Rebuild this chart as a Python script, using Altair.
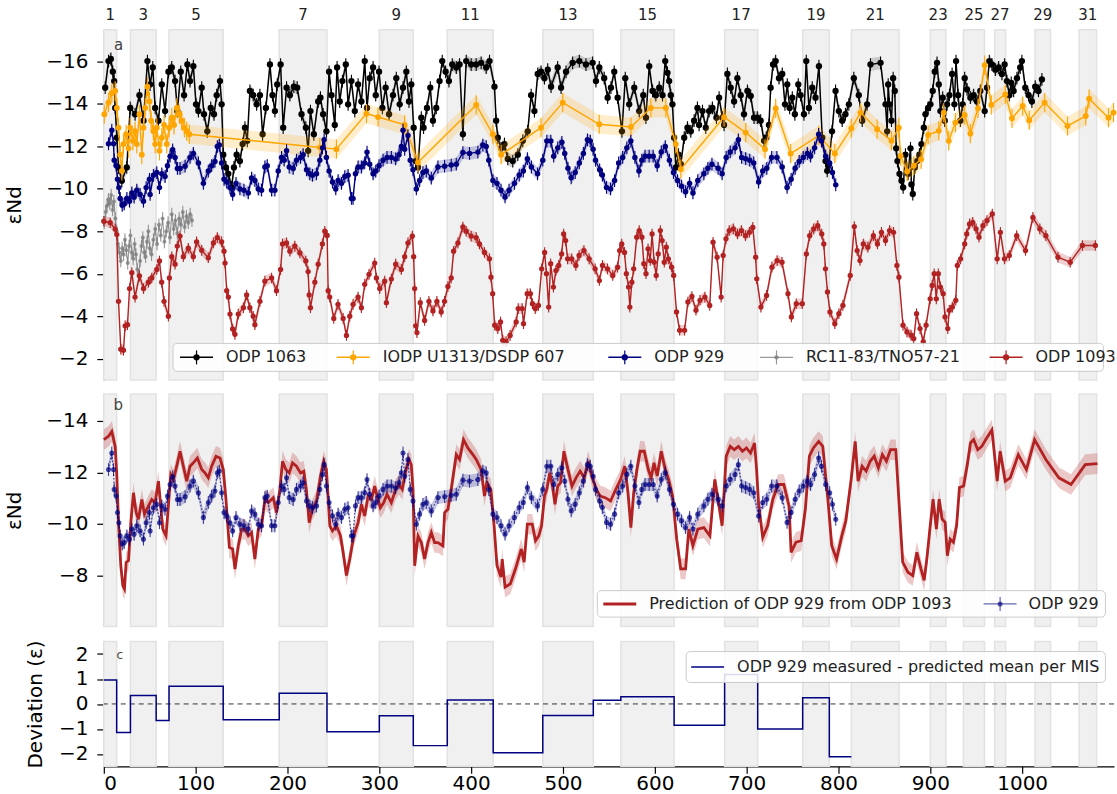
import altair as alt
import pandas as pd

# ---------------------------------------------------------------------------
# Marine isotope stages (interglacials) shown as grey bands, ages in ka
MIS_LABELS = [1, 3, 5, 7, 9, 11, 13, 15, 17, 19, 21, 23, 25, 27, 29, 31]
MIS_START = [0, 29, 71, 191, 300, 374, 478, 563, 676, 761, 814, 900, 936, 970, 1014, 1062]
MIS_END = [14, 57, 130, 243, 337, 424, 533, 621, 712, 790, 866, 917, 959, 982, 1031, 1081]

# ODP 1063 (age ka, eNd)
ODP1063 = [
    (1.5, -14.75), (5.1, -16.0), (7.7, -16.1), (9.8, -15.5), (11.3, -15.06), (12.4, -13.8), (14.2, -12.4),
    (16, -11.0), (19.6, -10.37), (25, -11.0), (28.7, -13.8), (34.1, -13.5), (38.8, -14.4), (43.2, -13.2),
    (47.5, -16.0), (50.4, -14.9), (53.3, -15.7), (55.9, -13.8), (59.5, -13.2), (63.1, -14.9), (66.7, -13.65),
    (70.4, -15.5), (74, -15.7), (77.6, -15.06), (80.1, -13.65), (83.8, -15.5), (87.4, -14.4), (91, -15.84),
    (93.9, -15.06), (97.5, -15.76), (100.4, -13.97), (103, -13.65), (106.6, -14.75), (109.1, -13.5),
    (112.7, -12.7), (116.4, -13.8), (120, -13.5), (122.9, -14.4), (126.5, -15.06), (128.3, -13.97),
    (130.1, -11.6), (133, -11.0), (135.6, -10.7), (139.2, -10.06), (141.7, -11.0), (144.6, -11.6),
    (148.2, -11.3), (151.1, -12.1), (153.7, -12.87), (156.2, -12.25), (159.1, -14.6), (162.7, -14.4),
    (166.4, -13.97), (170, -14.4), (172.9, -12.56), (176.5, -13.8), (180.9, -15.84), (183.7, -14.4),
    (186.3, -13.65), (188.8, -14.9), (192.5, -15.84), (195.3, -12.87), (199, -14.75), (202.6, -14.4),
    (206.9, -14.8), (210.6, -14.75), (215.3, -13.5), (220, -12.87), (222.5, -11.78), (225, -13.65),
    (228.7, -12.56), (233.4, -14.1), (235.9, -14.28), (238.8, -13.5), (242.4, -12.7), (245.3, -15.5),
    (247.9, -14.4), (251.5, -13.0), (254, -15.7), (256.9, -14.1), (259.8, -15.06), (263.5, -15.84),
    (266, -13.97), (269.6, -15.06), (273.3, -13.65), (276.9, -14.9), (280.5, -14.1), (284.1, -16.0),
    (286.6, -13.8), (289.5, -15.2), (293.2, -15.7), (296.1, -14.4), (299.7, -15.5), (303.3, -13.8),
    (306.9, -14.75), (310.6, -13.5), (314.9, -14.4), (318.5, -15.2), (322.2, -13.97), (325.8, -14.75),
    (329.4, -15.5), (332.3, -14.1), (334.8, -14.9), (337.4, -12.87), (339.6, -11.3), (342.1, -11.0),
    (345.7, -13.34), (348.2, -12.87), (351.9, -13.8), (355.5, -14.75), (358.4, -13.2), (362, -13.8),
    (365.6, -15.06), (368.5, -16.0), (372.2, -15.5), (375.8, -15.06), (379.4, -15.84), (383.8, -15.7),
    (387.4, -15.84), (391, -12.56), (394.6, -16.0), (400, -15.84), (405.5, -15.84), (410.9, -15.92),
    (416.4, -15.7), (420, -16.0), (425.4, -14.8), (427.2, -13.2), (429, -12.4), (432.6, -11.9),
    (436.3, -12.1), (439.9, -11.4), (445.3, -11.3), (450.8, -11.6), (456.2, -12.25), (461.6, -12.7),
    (465.3, -14.4), (468.9, -13.65), (472.5, -15.4), (476.1, -15.5), (479.8, -15.2), (483.4, -15.6),
    (487, -14.8), (494.2, -15.7), (497.9, -14.75), (503.3, -15.5), (510.5, -15.92), (517.8, -16.0),
    (525, -15.84), (532.3, -15.92), (535.9, -15.06), (539.5, -15.7), (544.9, -15.2), (548.6, -14.28),
    (552.2, -14.75), (555.8, -15.5), (559.5, -14.28), (564.2, -12.7), (567.8, -15.2), (572.1, -13.97),
    (577.6, -14.75), (583, -13.65), (587.4, -14.4), (590.3, -13.34), (593.9, -15.76), (597.5, -14.6),
    (601.1, -14.4), (604.8, -14.75), (608.4, -14.4), (611.3, -16.0), (613.8, -15.45), (615.6, -15.06),
    (617.4, -14.4), (619.2, -13.97), (621, -12.4), (622.9, -11.0), (625.8, -11.6), (628.3, -11.15),
    (632, -12.4), (635.5, -12.87), (639.2, -12.7), (642.8, -13.2), (646.4, -13.8), (648.2, -13.0),
    (651.9, -13.65), (655.5, -12.87), (659.1, -13.65), (662.7, -13.8), (667.1, -13.34), (670, -14.28),
    (673.6, -13.34), (675.4, -13.0), (679, -15.4), (682.6, -14.75), (686.3, -14.1), (689.9, -15.2),
    (693.5, -14.4), (697.1, -13.5), (700.8, -14.6), (704.4, -14.36), (708, -13.34), (711.6, -13.34),
    (715.3, -13.2), (718.9, -12.25), (721.4, -12.4), (724.3, -13.0), (726.1, -14.75), (728.7, -15.84),
    (731.6, -16.0), (735.2, -15.2), (738.8, -15.4), (741.7, -13.97), (744.2, -14.9), (746.8, -13.8),
    (749.7, -14.28), (752.5, -13.5), (756.2, -14.9), (758.7, -14.4), (762.4, -13.5), (764.9, -16.0),
    (767.8, -13.8), (771.4, -14.75), (775, -14.28), (778.7, -15.76), (782.3, -12.4), (785.9, -11.3),
    (787.7, -10.84), (789.5, -11.15), (793, -12.7), (796.8, -14.6), (800.4, -13.65), (804, -13.2),
    (807.6, -13.5), (811.3, -13.97), (816.7, -15.2), (822.1, -14.4), (825.8, -13.2), (831.2, -13.97),
    (834.8, -15.84), (845.8, -15.92), (851.2, -13.97), (853, -12.7), (854.1, -14.9), (855.5, -13.97),
    (857.7, -13.2), (859.5, -15.2), (861.3, -14.6), (862.8, -11.9), (864.2, -11.3), (866.4, -10.7),
    (868.6, -10.37), (870.4, -10.06), (872.9, -11.6), (875.8, -10.7), (878.4, -11.9), (879.4, -10.2),
    (880.9, -9.75), (883.1, -11.0), (885.6, -11.3), (888.1, -11.6), (890.3, -12.1), (892.9, -12.87),
    (894.7, -13.5), (897.6, -13.8), (900.1, -13.97), (902.6, -14.6), (904.8, -15.5), (907.3, -15.92),
    (909.2, -14.9), (911, -13.65), (913.5, -14.28), (915.7, -13.2), (918.2, -13.97), (920.8, -14.4),
    (923.7, -15.4), (926.2, -13.97), (928, -16.0), (930.2, -14.4), (932.7, -13.2), (935.2, -13.97),
    (937.4, -15.2), (940, -14.67), (943.6, -14.28), (947.2, -14.4), (950.8, -14.1), (954.4, -14.6),
    (959.2, -13.65), (961.7, -14.75), (964.2, -16.0), (967.1, -15.84), (970.8, -15.6), (974.4, -15.7),
    (978, -15.4), (980.9, -15.84), (983.4, -15.06), (986, -14.4), (988.1, -14.98), (990.7, -14.6),
    (994.3, -15.2), (997.9, -15.7), (999.7, -16.0), (1003.4, -14.75), (1007, -14.4), (1010.6, -14.1),
    (1014.2, -14.8), (1017.8, -14.6), (1021.5, -15.14),
]

# IODP U1313 / DSDP 607
U1313 = [
    (0.5, -13.5), (5.1, -14.05), (8.7, -14.5), (12.4, -14.6), (14.2, -13.8), (16, -12.87), (17.8, -11.6),
    (19.6, -10.84), (21.4, -12.1), (24.3, -12.56), (26.9, -11.9), (28.7, -12.87), (31.6, -12.25),
    (34.1, -12.7), (35.9, -12.1), (38.8, -13.5), (41.4, -11.6), (43.2, -12.87), (45, -13.8), (47.5, -14.8),
    (49.7, -14.1), (51.5, -13.2), (54, -12.7), (55.9, -12.1), (57.7, -12.87), (60.6, -11.78), (63.1, -12.4),
    (65.6, -13.0), (68.5, -12.1), (71.1, -12.87), (74, -13.34), (76.5, -13.0), (79.4, -13.8), (82.3, -13.5),
    (84.8, -13.2), (87.7, -12.87), (90.3, -12.7), (93.2, -12.56), (235.2, -11.94), (253.3, -11.86),
    (286, -13.53), (298.6, -13.37), (327.6, -13.0), (342, -11.23), (405.5, -13.94), (423.6, -12.56),
    (432.7, -11.6), (476.1, -12.87), (499.7, -14.05), (539.5, -13.03), (574, -12.9), (595.7, -13.8),
    (612, -13.8), (622.9, -12.1), (628.3, -10.92), (675.4, -13.37), (699, -12.64), (720, -11.86),
    (731.6, -13.78), (747.9, -11.65), (778.7, -12.51), (796, -11.65), (814, -12.84), (824, -13.58),
    (842.1, -12.8), (857.7, -12.25), (865.7, -12.87), (867.5, -11.54), (874.7, -10.81), (882, -11.08),
    (890, -11.39), (897.6, -12.53), (909.2, -12.72), (914.6, -13.58), (920, -12.25), (927.3, -13.11),
    (937.4, -13.47), (943.6, -12.59), (951.9, -13.78), (959.2, -15.81), (966.4, -13.94), (981.6, -14.44),
    (988.9, -13.31), (1000.5, -13.89), (1007.7, -13.22), (1024.4, -14.05), (1049.4, -12.95),
    (1069.3, -13.42), (1072.9, -14.23), (1094, -13.34), (1099.5, -13.58),
]

# ODP 929 (measured)
ODP929 = [
    (5.1, -12.11), (8.7, -12.75), (10.6, -12.11), (11.3, -11.34), (13.5, -11.08), (14.9, -10.44),
    (16.4, -10.05), (17.8, -9.54), (20, -9.22), (22.2, -9.28), (25.1, -9.54), (28, -9.41), (30.5, -9.8),
    (33, -9.6), (35.9, -9.93), (39.5, -9.73), (43.2, -9.41), (46.1, -10.05), (49.7, -10.44), (50.4, -9.73),
    (54, -10.63), (57.7, -10.76), (60.6, -10.05), (63.1, -10.7), (66.7, -10.57), (69.3, -11.08),
    (72.2, -11.53), (75, -11.83), (77.6, -11.47), (80.1, -10.95), (83, -10.95), (88.5, -11.06),
    (93.9, -11.47), (97.5, -11.66), (103, -11.21), (108.4, -10.25), (113.8, -10.83), (117.4, -11.08),
    (121, -11.28), (123.6, -11.98), (125.8, -12.05), (128.3, -11.21), (130.9, -10.44), (133.8, -10.31),
    (137.4, -10.05), (140.3, -9.73), (143.9, -10.25), (148.2, -9.99), (152.6, -9.93), (157.3, -9.8),
    (160.9, -10.5), (164.5, -10.38), (168.2, -9.99), (171.8, -9.93), (175.4, -11.02), (178, -11.08),
    (182.7, -9.93), (186.3, -9.93), (189.9, -10.83), (193.5, -11.47), (196.4, -11.34), (199, -11.79),
    (201.9, -11.02), (206.2, -10.95), (209.8, -11.34), (214.2, -11.47), (217.1, -11.6), (220.7, -10.89),
    (224.3, -10.7), (227.2, -10.63), (231.6, -10.7), (235.2, -11.34), (238.1, -11.92), (239.9, -12.3),
    (242.4, -11.47), (245.3, -10.83), (249, -10.31), (252.6, -9.99), (255.1, -10.38), (258.8, -10.25),
    (262.4, -10.57), (266, -10.63), (269.6, -9.54), (271.4, -9.54), (274, -10.7), (276.9, -11.02),
    (280.5, -11.02), (284.1, -11.21), (286.6, -11.72), (289.5, -11.15), (293.2, -10.7), (296.1, -10.83),
    (299.7, -11.08), (304.1, -11.34), (308.4, -11.47), (313.1, -11.47), (317.8, -11.4), (321.4, -11.6),
    (324, -11.98), (325.8, -12.75), (327.6, -11.85), (331.2, -12.5), (333.7, -11.34), (336.7, -10.89),
    (340.3, -9.99), (343.9, -10.38), (347.5, -10.76), (351.1, -10.83), (356.6, -10.5), (363.8, -11.02),
    (371.1, -11.06), (378.3, -11.11), (383.8, -11.15), (391, -11.7), (398.2, -11.66), (407.3, -11.72),
    (412.7, -12.05), (416.4, -11.98), (419.2, -11.34), (423.7, -10.38), (428.1, -10.25), (432.5, -9.93),
    (436.9, -9.61), (441.3, -9.93), (447.1, -10.25), (452.4, -10.64), (456.8, -10.83), (461.2, -11.41),
    (465.6, -11.02), (472.3, -10.7), (478, -11.34), (482.4, -12.24), (486.8, -12.24), (489.9, -11.53),
    (494.3, -11.92), (498.8, -12.18), (501.9, -11.66), (505.4, -10.96), (508.9, -10.51), (513.3, -10.76),
    (517.8, -11.21), (522.2, -11.66), (526.6, -12.3), (529.7, -12.24), (532.8, -11.85), (535.4, -11.34),
    (539.9, -10.89), (542.9, -10.64), (547.4, -10.06), (551.8, -9.99), (556.2, -10.38), (560.6, -11.21),
    (565, -11.47), (569.5, -11.92), (573.9, -12.24), (578.3, -11.47), (582.7, -10.83), (585.8, -11.34),
    (589.3, -11.53), (593.8, -11.53), (598.2, -11.53), (602.6, -11.08), (607, -11.73), (611.4, -11.98),
    (615.9, -11.34), (620.3, -10.76), (624.7, -10.38), (629.1, -10.12), (633.5, -9.86), (637.9, -10.25),
    (641.5, -9.8), (646.8, -10.38), (653.4, -10.7), (657.8, -10.96), (662.2, -11.15), (668.9, -10.96),
    (673.3, -10.7), (677.7, -11.47), (682.1, -11.73), (687.4, -11.92), (691, -12.3), (694.5, -11.47),
    (698.9, -11.41), (703.3, -11.34), (707.7, -11.21), (713, -10.31), (717.5, -10.83), (721.9, -10.96),
    (727.2, -11.47), (732.9, -11.47), (738.7, -11.02), (744, -10.06), (748.4, -10.44), (752.8, -10.96),
    (757.2, -11.28), (761.6, -11.47), (766.1, -11.66), (769.6, -11.53), (774, -11.92), (778.4, -12.56),
    (781.5, -12.24), (786, -11.53), (790.4, -11.21), (793.4, -10.76), (797, -10.18),
]

# RC11-83 / TNO57-21
RC1183 = [
    (0.5, -8.4), (2, -8.9), (3.5, -9.2), (5, -9.5), (6.5, -9.3), (8, -9.7), (9.5, -9.0), (11, -9.4),
    (12.5, -8.6), (14, -8.0), (15.5, -7.4), (17, -7.0), (18.5, -6.6), (20, -7.2), (21.5, -6.9), (23, -7.6),
    (24.5, -7.1), (26, -6.5), (27.5, -7.3), (29, -7.8), (30.5, -7.0), (32, -6.7), (33.5, -7.4), (35, -6.9),
    (36.5, -6.2), (38, -5.9), (39.5, -6.6), (41, -7.3), (42.5, -7.7), (44, -7.0), (45.5, -6.8), (47, -7.5),
    (48.5, -8.0), (50, -7.2), (52, -6.9), (54, -7.6), (56, -8.1), (58, -7.4), (60, -8.3), (62, -7.8),
    (64, -8.6), (66, -7.5), (68, -8.0), (70, -8.4), (72, -7.7), (74, -8.8), (76, -8.1), (78, -8.5),
    (80, -7.9), (82, -8.6), (84, -8.3), (86, -8.9), (88, -8.2), (90, -8.7), (92, -8.4), (94, -8.8), (96, -8.5),
]

# ODP 1093
ODP1093 = [
    (0, -8.47), (7, -8.4), (12.4, -8.1), (14.2, -7.84), (16, -4.7), (18.5, -2.45), (21.4, -2.4),
    (23.2, -3.55), (25.8, -3.6), (28, -5.3), (30.5, -6.05), (34, -4.9), (38.8, -5.9), (43.2, -5.3),
    (48.6, -5.6), (52.2, -5.8), (57.7, -6.2), (60.6, -6.6), (63, -5.6), (65.6, -4.7), (70.3, -4.0),
    (71.4, -5.8), (74, -6.8), (77.6, -6.45), (80, -7.3), (83, -7.77), (86.6, -6.8), (92, -7.2),
    (97.5, -6.8), (101, -7.5), (106.6, -7.1), (113.8, -6.75), (119.3, -7.45), (123.6, -7.7),
    (128.3, -7.5), (130.9, -7.06), (132, -6.5), (133.8, -5.2), (135.6, -4.9), (137.4, -4.1),
    (140.3, -3.4), (142.8, -3.15), (146.4, -4.1), (152, -4.4), (155.5, -5.0), (159, -4.4), (162.7, -4.0),
    (164.5, -3.6), (170, -4.7), (175.4, -5.65), (182.7, -5.8), (188, -5.2), (192.5, -6.2), (194.6, -7.4),
    (199, -7.45), (202.6, -7.06), (208, -7.3), (213.5, -6.98), (220, -6.6), (222.5, -6.1), (223.6, -5.0),
    (225, -4.4), (229.8, -5.6), (233.4, -6.45), (238, -7.4), (240.6, -8.0), (243.2, -7.8), (244.3, -5.2),
    (246, -4.9), (250.4, -3.9), (255, -4.56), (260.6, -3.9), (264.2, -3.1), (267.8, -4.0), (271.4, -4.56),
    (276.9, -4.9), (280.5, -4.4), (284.1, -5.5), (288.8, -5.97), (295, -6.5), (296.8, -5.8),
    (300.4, -5.3), (305.9, -5.65), (307.7, -4.64), (313.1, -5.75), (317.8, -6.45), (324, -6.2),
    (327.6, -6.8), (331.2, -7.45), (336, -7.77), (337.4, -6.8), (338.5, -5.3), (339.6, -3.55),
    (341, -3.23), (344.6, -4.64), (349.3, -3.8), (354, -4.7), (358.4, -4.25), (362.7, -4.7),
    (367.4, -4.2), (371, -4.7), (374.7, -5.4), (378.3, -5.8), (380.9, -7.06), (385.6, -7.45),
    (391, -8.2), (394.6, -8.0), (400, -7.77), (405.5, -7.7), (409, -7.4), (414.5, -7.0), (420, -6.7),
    (421.6, -5.84), (423.4, -5.06), (425.6, -3.58), (429, -3.42), (432, -3.73), (434.4, -2.87),
    (438, -2.8), (442.4, -3.1), (449, -3.73), (451.2, -4.36), (455.6, -4.36), (457, -3.65), (461, -5.06),
    (464.5, -5.06), (466.7, -4.59), (469.8, -4.36), (473.3, -4.51), (476.8, -6.23), (480, -7.0),
    (482, -6.0), (484.4, -4.43), (486.6, -6.47), (489.6, -5.37), (492.3, -6.15), (495.4, -6.39),
    (498.5, -6.93), (500.7, -7.87), (502.9, -7.56), (505, -6.7), (509.5, -6.7), (514, -6.39),
    (517.5, -6.86), (522.8, -7.09), (528.5, -6.7), (535, -6.23), (539.6, -5.68), (543, -6.39),
    (548.4, -6.23), (554.2, -5.92), (559.5, -6.31), (561.7, -7.09), (564, -7.4), (567, -7.0), (569, -6.0),
    (571.4, -5.37), (572.8, -4.43), (575, -5.6), (577, -6.23), (580.3, -7.72), (583, -8.03), (586, -7.72),
    (588, -6.47), (590.4, -6.0), (592.6, -7.17), (595, -6.62), (597, -7.87), (599.3, -6.54),
    (601.5, -5.92), (603.7, -6.93), (606, -8.03), (608, -7.56), (610.3, -6.54), (612.5, -7.25),
    (614.7, -6.7), (618.3, -6.31), (620.5, -5.92), (623.6, -4.2), (627, -3.34), (632.4, -3.34),
    (636, -4.67), (640.4, -4.93), (644.8, -4.28), (649.2, -4.75), (654.5, -4.9), (659.8, -4.51),
    (663.4, -7.48), (667.8, -6.78), (672.2, -4.9), (674.4, -6.86), (677.5, -7.64), (681, -8.03),
    (685.5, -8.11), (690, -7.87), (694.3, -8.03), (698.7, -7.79), (703, -7.95), (706.7, -8.18),
    (709.8, -6.78), (711, -5.76), (715.5, -4.43), (721.7, -4.98), (727.5, -6.31), (733.2, -6.62),
    (738.5, -6.54), (745, -5.06), (748.7, -3.97), (754, -4.59), (760.6, -4.59), (765, -6.93),
    (768.6, -7.79), (773, -8.11), (777.4, -8.26), (781.8, -7.87), (784, -7.4), (785.8, -6.23),
    (788, -5.14), (790.7, -4.2), (796, -3.65), (800.4, -4.12), (804.8, -4.51), (812.8, -5.92),
    (817.2, -8.22), (820.3, -7.09), (823.4, -6.62), (827, -7.4), (832, -7.25), (838, -7.79),
    (842.4, -7.4), (846.8, -7.95), (851.2, -7.56), (855.6, -8.03), (860, -7.95), (863.6, -6.39),
    (865.8, -5.84), (870.2, -3.58), (874.6, -3.26), (879, -3.11), (882, -2.95), (885, -4.12),
    (888.8, -3.42), (892.3, -2.8), (895.4, -3.58), (899.8, -4.82), (902, -5.45), (904.2, -6.0),
    (906.5, -4.82), (908.7, -6.0), (911, -5.37), (914, -5.06), (916, -3.97), (919, -3.42), (920.6, -4.28),
    (924, -4.43), (927.7, -4.75), (929.4, -6.39), (933, -6.7), (937.4, -7.4), (939.6, -7.87),
    (942.7, -8.34), (946.2, -8.42), (949.8, -8.11), (953, -7.72), (957.3, -8.26), (961.7, -8.5),
    (967.5, -8.81), (972.8, -6.7), (976.3, -7.95), (980.7, -6.7), (986, -6.86), (994, -7.79),
    (1003.7, -7.09), (1011.7, -8.65), (1019.2, -8.11), (1025.8, -7.79), (1039, -6.78), (1052.3, -6.54),
    (1065.6, -7.33), (1079.7, -7.33),
]

# ODP 929 predicted from ODP 1093
PRED929 = [
    (0, -13.27), (5.1, -13.4), (8.7, -13.59), (12.4, -13.01), (14.2, -11.85), (16, -10.05), (18.5, -8.38),
    (20.7, -7.61), (22.5, -7.48), (24.3, -8.51), (26.9, -8.58), (29.4, -10.05), (32.3, -11.21),
    (35.2, -10.44), (37.7, -10.18), (41.4, -10.95), (44.3, -10.38), (48.6, -10.7), (52.2, -10.95),
    (55.9, -10.83), (59.5, -11.66), (61.3, -10.95), (64.2, -9.8), (67.8, -9.54), (70.3, -10.7),
    (72.9, -11.92), (75.8, -11.72), (79.4, -12.24), (83, -12.82), (86.6, -12.24), (90.3, -11.66),
    (93.9, -12.24), (97.5, -12.37), (101.9, -12.56), (106.6, -12.11), (110.2, -11.98), (113.8, -11.79),
    (117.4, -12.24), (122.2, -12.62), (126.5, -12.56), (130.1, -12.11), (133, -10.95), (136.7, -9.09),
    (140.3, -9.03), (142.8, -8.25), (146.4, -9.15), (150.1, -9.8), (153.7, -9.8), (157.3, -9.54),
    (160.9, -9.67), (164.5, -8.64), (168.2, -9.8), (171.8, -9.93), (175.4, -10.95), (179.1, -10.83),
    (184.5, -11.02), (188.1, -10.44), (191.7, -11.34), (194.6, -12.43), (198.2, -12.11), (201.9, -11.98),
    (205.5, -12.37), (209.8, -12.24), (214.2, -11.98), (217.8, -12.05), (220.7, -11.28), (223.6, -10.05),
    (227.2, -10.57), (231.6, -10.89), (235.9, -11.85), (239.5, -12.43), (242.4, -12.11), (246.1, -9.93),
    (249, -9.73), (253.3, -9.93), (257.7, -9.54), (260.6, -8.9), (264.2, -8.0), (267.8, -8.64),
    (272.2, -9.54), (276.9, -10.05), (280.5, -10.76), (284.1, -10.31), (287.7, -11.08), (291.4, -10.95),
    (295, -11.47), (297.5, -11.08), (301.1, -10.63), (304.8, -10.83), (308.4, -11.15), (313.1, -10.83),
    (317.8, -11.34), (321.4, -11.53), (325, -11.34), (328.7, -12.05), (332.3, -12.5), (334.8, -12.3),
    (336.7, -11.34), (338.5, -8.38), (342.1, -9.54), (345.7, -9.28), (349.3, -8.64), (353, -9.28),
    (356.6, -9.67), (360.2, -9.28), (363.8, -9.28), (369.3, -9.15), (371.1, -10.44), (374.7, -10.57),
    (378.3, -11.34), (383.8, -12.69), (387.4, -12.5), (391.7, -13.27), (396.4, -12.95), (401.9, -12.69),
    (405.5, -12.5), (410.9, -12.11), (414.5, -11.08), (417, -11.6), (421.5, -11.34), (425, -9.93),
    (428.1, -8.39), (432.5, -7.94), (433.8, -8.64), (436.9, -7.55), (442.7, -7.68), (448.8, -8.32),
    (454.6, -9.03), (457.7, -8.52), (461.2, -9.99), (466.5, -9.99), (470.1, -9.35), (473.6, -9.54),
    (476.7, -9.93), (479.8, -11.08), (482.4, -11.34), (485.5, -11.98), (488.6, -11.47), (491.3, -10.76),
    (494.3, -11.47), (497.4, -11.6), (501, -12.82), (505.4, -12.11), (509.8, -11.47), (514.2, -11.79),
    (518.7, -12.05), (523.1, -11.79), (527.5, -12.43), (531.9, -11.79), (536.3, -11.34), (540.7, -11.08),
    (546, -11.02), (551.8, -10.89), (557.5, -11.34), (562.8, -11.73), (567.3, -12.24), (570.8, -11.21),
    (573.9, -9.86), (577, -11.21), (580.5, -12.11), (584, -12.82), (588.5, -12.82), (592.9, -12.11),
    (596, -11.79), (599.1, -12.37), (602.6, -11.86), (607, -12.82), (611.4, -12.11), (615, -11.73),
    (619.4, -11.08), (623.8, -9.41), (628.2, -8.26), (633.5, -8.26), (637, -9.8), (641.5, -9.16),
    (646.8, -9.8), (653.4, -9.86), (660, -9.54), (665.3, -11.73), (673.3, -9.93), (677.7, -12.63),
    (682.1, -13.01), (686.5, -12.88), (691, -13.01), (695.4, -12.82), (699.8, -12.95), (704.2, -12.75),
    (708.6, -13.14), (710.8, -12.11), (713, -10.76), (717.5, -9.48), (722.8, -9.93), (728.5, -10.96),
    (734.3, -11.53), (740.4, -11.53), (746.2, -10.7), (748.4, -8.9), (753.7, -9.29), (759.4, -9.35),
    (763.9, -10.57), (768.3, -12.63), (772.7, -12.95), (778.4, -13.2), (782.9, -13.01), (786, -11.86),
    (789.1, -10.7), (792.6, -9.16), (797.9, -8.64), (803.6, -9.54), (808, -10.12), (813.8, -11.73),
    (818.2, -13.2), (821.3, -11.66), (825.7, -12.24), (830.1, -12.05), (834.5, -12.43), (838.9, -12.63),
    (843.4, -12.18), (847.8, -12.69), (852.2, -12.43), (856.6, -12.88), (862.4, -12.88), (865.5, -11.08),
    (869.9, -8.52), (875.6, -8.13), (880.9, -8.0), (885.3, -8.9), (889.8, -8.26), (893.3, -7.81),
    (896.4, -8.71), (899.5, -9.8), (903, -10.96), (906.6, -9.8), (909.6, -10.96), (912.8, -10.19),
    (916.2, -10.06), (918.5, -8.77), (921.6, -9.41), (925.1, -9.29), (928.6, -9.93), (931.7, -11.41),
    (936.2, -11.47), (940.6, -12.37), (943.7, -13.14), (947.2, -13.27), (951.6, -12.88), (956, -13.01),
    (961.4, -13.33), (967.1, -13.65), (972.8, -11.66), (976, -12.82), (981.6, -11.66), (987, -11.79),
    (995.8, -12.69), (1004.6, -12.11), (1013.5, -13.27), (1025.8, -12.5), (1040, -11.79),
    (1053.2, -11.53), (1068.7, -12.3), (1082, -12.34),
]

# Measured minus predicted ODP 929, mean per MIS (step starts, ka) and last step end
DEV_START = [0, 14, 29, 57, 71, 130, 191, 243, 300, 337, 374, 424, 478, 533, 563, 621, 676, 712, 761, 790]
DEV_VALUE = [0.96, -1.14, 0.34, -0.66, 0.71, -0.63, 0.43, -1.11, -0.47, -1.67, 0.16, -1.96,
             -0.46, 0.15, 0.29, -0.85, 1.18, -1.0, 0.25, -2.12]
DEV_LAST_END = 814

# 2-sigma uncertainties drawn as bands / error bars
ERR_1063, ERR_U1313, ERR_929, ERR_RC, ERR_1093, ERR_PRED = 0.3, 0.45, 0.3, 0.3, 0.25, 0.4

# ---------------------------------------------------------------------------
FONT = "DejaVu Sans"
C_BLACK, C_ORANGE, C_NAVY, C_GREY, C_RED = "#000000", "#ffa500", "#000080", "#808080", "#b22222"

W = 1012
H_A, H_B, H_C = 351, 233, 125
X_SCALE = alt.Scale(domain=[0, 1100], nice=False, zero=False)
Y_A = alt.Scale(domain=[-17.48, -1.0], reverse=True, nice=False, zero=False)
Y_B = alt.Scale(domain=[-15.04, -6.02], reverse=True, nice=False, zero=False)
Y_C = alt.Scale(domain=[-2.5, 2.5], nice=False, zero=False)
MINUS = "replace(datum.label, '-', '\u2212')"

dummy = pd.DataFrame({"k": [0]})
mis = pd.DataFrame({"label": [str(v) for v in MIS_LABELS], "start": MIS_START, "end": MIS_END})
mis["mid"] = (mis["start"] + mis["end"]) / 2


def yaxis(values, title, tx):
    return alt.Axis(values=values, title=title, titleX=tx, titleBaseline="middle",
                    labelExpr=MINUS, labelPadding=9)


AX_A = yaxis(list(range(-16, -1, 2)), "\u03b5Nd", -89.6)
AX_B = yaxis([-14, -12, -10, -8], "\u03b5Nd", -89.6)
AX_C = yaxis([-2, -1, 0, 1, 2], "Deviation (\u03b5)", -68.6)
X_AXIS_C = alt.Axis(values=list(range(0, 1001, 100)), format="d", labelPadding=0, title=None)


def frame(pairs, err):
    df = pd.DataFrame(pairs, columns=["age", "end"])
    df["lo"] = df["end"] - err
    df["hi"] = df["end"] + err
    return df


def xenc(field="age", axis=None):
    return alt.X(f"{field}:Q", scale=X_SCALE, axis=axis, title=None)


def bands(height, axis=None):
    return alt.Chart(mis).mark_rect(fill="#f0f0f0", stroke="#e2e2e2", strokeWidth=1.5).encode(
        x=xenc("start", axis), x2="end", y=alt.value(0), y2=alt.value(height)
    )


def series(df, ys, ax, color, size, band_op, lw=1.4, band_color=None, bars=True,
           dots=True, pt_op=1.0, line_op=1.0, dash=None):
    base = alt.Chart(df)
    y = alt.Y("end:Q", scale=ys, axis=ax)
    ylo = alt.Y("lo:Q", scale=ys, axis=ax)
    layers = [
        base.mark_area(color=band_color or color, opacity=band_op).encode(x=xenc(), y=ylo, y2="hi")
    ]
    line_kw = dict(color=color, strokeWidth=lw, opacity=line_op)
    if dash:
        line_kw["strokeDash"] = dash
    layers.append(base.mark_line(**line_kw).encode(x=xenc(), y=y))
    if bars:
        layers.append(
            base.mark_rule(color=color, strokeWidth=1.1, opacity=pt_op).encode(x=xenc(), y=ylo, y2="hi")
        )
    if dots:
        layers.append(base.mark_circle(color=color, size=size, opacity=pt_op).encode(x=xenc(), y=y))
    return layers


def legend(box, entries, cy):
    x0, x1, y0, y1 = box
    out = [
        alt.Chart(dummy).mark_rect(fill="white", fillOpacity=0.85, stroke="#cccccc",
                                   strokeWidth=1, cornerRadius=4).encode(
            x=alt.value(x0), x2=alt.value(x1), y=alt.value(y0), y2=alt.value(y1)
        )
    ]
    for label, color, sx, tx, lw, op, dot in entries:
        out.append(alt.Chart(dummy).mark_rule(color=color, strokeWidth=lw, opacity=op).encode(
            x=alt.value(sx), x2=alt.value(sx + 33), y=alt.value(cy)))
        if dot:
            cx = sx + 16.5
            out.append(alt.Chart(dummy).mark_rule(color=color, strokeWidth=1.2, opacity=op).encode(
                x=alt.value(cx), y=alt.value(cy - 7), y2=alt.value(cy + 7)))
            out.append(alt.Chart(dummy).mark_circle(color=color, size=dot, opacity=op).encode(
                x=alt.value(cx), y=alt.value(cy)))
        out.append(alt.Chart(dummy).mark_text(align="left", baseline="middle", font=FONT,
                                              fontSize=16, color="#222222").encode(
            x=alt.value(tx), y=alt.value(cy), text=alt.value(label)))
    return out


def letter(txt, x, y, size):
    return alt.Chart(dummy).mark_text(font=FONT, fontSize=size, color="#444444",
                                      align="center", baseline="middle").encode(
        x=alt.value(x), y=alt.value(y), text=alt.value(txt))


# ---------------------------------------------------------------------------
# Panel a: all records
d1063 = frame(ODP1063, ERR_1063)
d1313 = frame(U1313, ERR_U1313)
d929 = frame(ODP929, ERR_929)
drc = frame(RC1183, ERR_RC)
d1093 = frame(ODP1093, ERR_1093)

mis_text = alt.Chart(mis).mark_text(font=FONT, fontSize=15, color="#222222", baseline="middle").encode(
    x=xenc("mid"), y=alt.value(-14.7), text="label:N"
)

layers_a = [bands(H_A), mis_text]
layers_a += series(d1063, Y_A, AX_A, C_BLACK, 40, 0.35, lw=1.5, band_color=C_GREY)
layers_a += series(d1313, Y_A, AX_A, C_ORANGE, 34, 0.2, lw=1.4)
layers_a += series(d929, Y_A, AX_A, C_NAVY, 30, 0.2, lw=1.4)
layers_a += series(drc, Y_A, AX_A, C_GREY, 16, 0.15, lw=1.0, pt_op=0.8, line_op=0.8)
layers_a += series(d1093, Y_A, AX_A, C_RED, 28, 0.22, lw=1.4)
layers_a += legend(
    (69.4, 1001.4, 314.3, 342.3),
    [
        ("ODP 1063", C_BLACK, 76.4, 122.4, 1.5, 1.0, 40),
        ("IODP U1313/DSDP 607", C_ORANGE, 233.4, 279.4, 1.5, 1.0, 40),
        ("ODP 929", C_NAVY, 505.4, 551.4, 1.5, 1.0, 40),
        ("RC11-83/TNO57-21", C_GREY, 657.4, 703.4, 1.2, 0.8, 20),
        ("ODP 1093", C_RED, 887.4, 933.4, 1.5, 1.0, 40),
    ],
    328.3,
)
layers_a.append(letter("a", 14.9, 15.8, 15))
panel_a = alt.layer(*layers_a).properties(width=W, height=H_A)

# Panel b: prediction of ODP 929 from ODP 1093
dpred = frame(PRED929, ERR_PRED)
d929b = frame(ODP929, 0.25)

layers_b = [bands(H_B)]
layers_b += series(dpred, Y_B, AX_B, C_RED, 0, 0.25, lw=2.8, bars=False, dots=False)
layers_b += series(d929b, Y_B, AX_B, C_NAVY, 26, 0.22, lw=1.2, pt_op=0.7, line_op=0.75, dash=[1.5, 2])
layers_b += legend(
    (494.4, 1003.4, 197.0, 223.5),
    [
        ("Prediction of ODP 929 from ODP 1093", C_RED, 500.4, 546.4, 3.0, 1.0, None),
        ("ODP 929", C_NAVY, 881.4, 926.4, 1.2, 0.6, 26),
    ],
    210.3,
)
layers_b.append(letter("b", 14.4, 11.5, 15))
panel_b = alt.layer(*layers_b).properties(width=W, height=H_B)

# Panel c: deviation per MIS
dev = pd.DataFrame({"age": DEV_START + [DEV_LAST_END], "dev": DEV_VALUE + [DEV_VALUE[-1]]})

zero = alt.Chart(dummy).mark_rule(color="#333333", strokeWidth=1, strokeDash=[5, 4]).encode(
    y=alt.datum(0, scale=Y_C, axis=AX_C)
)
step = alt.Chart(dev).mark_line(interpolate="step-after", color=C_NAVY, strokeWidth=1.5).encode(
    x=xenc("age", X_AXIS_C),
    y=alt.Y("dev:Q", scale=Y_C, axis=AX_C),
)
layers_c = [bands(H_C, X_AXIS_C), zero, step]
layers_c += legend(
    (583.4, 1003.4, 10.0, 41.0),
    [("ODP 929 measured - predicted mean per MIS", C_NAVY, 588.4, 634.4, 1.5, 1.0, None)],
    25.5,
)
layers_c.append(letter("c", 16.0, 13.5, 12))
panel_c = alt.layer(*layers_c).properties(width=W, height=H_C)

chart = (
    alt.vconcat(panel_a, panel_b, panel_c, spacing=12)
    .properties(padding={"left": 4, "top": 7, "right": 0, "bottom": 0}, background="white")
    .configure_view(stroke=None)
    .configure_axis(
        grid=False, domainColor="black", tickColor="black", labelColor="black", titleColor="black",
        labelFont=FONT, titleFont=FONT, labelFontSize=20, titleFontSize=20, titleFontWeight="normal",
        tickSize=7, domainWidth=1.2, tickWidth=1.2,
    )
)

chart.save("out.html", embed_options={"renderer": "svg", "actions": False})
